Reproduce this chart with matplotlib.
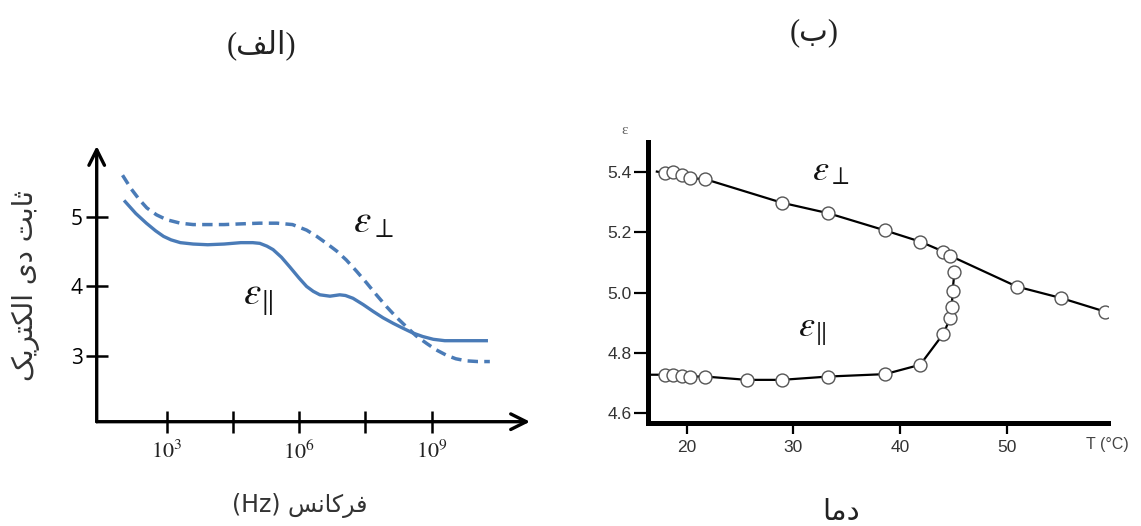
import numpy as np
import matplotlib.pyplot as plt

plt.rcParams['mathtext.fontset'] = 'stix'

# ---------- (الف) ثابت دی الکتریک بر حسب فرکانس ----------
log_f_perp = [2.0, 2.2, 2.38, 2.55, 2.77, 3.0, 3.31, 3.6, 3.93, 4.3, 4.68, 5.1, 5.5, 5.85,
              6.17, 6.4, 6.62, 6.85, 7.07, 7.3, 7.53, 7.75, 7.98, 8.2, 8.43, 8.65, 8.89,
              9.1, 9.34, 9.55, 9.79, 10.05, 10.32]
eps_perp_f = [5.60, 5.40, 5.25, 5.13, 5.03, 4.96, 4.91, 4.89, 4.89, 4.89, 4.90, 4.91, 4.91, 4.89,
              4.81, 4.72, 4.62, 4.51, 4.38, 4.22, 4.05, 3.88, 3.71, 3.56, 3.42, 3.29, 3.18,
              3.09, 3.01, 2.96, 2.93, 2.92, 2.92]

log_f_par = [2.06, 2.3, 2.54, 2.75, 2.93, 3.1, 3.31, 3.6, 3.93, 4.3, 4.68, 4.95, 5.11, 5.27,
             5.41, 5.6, 5.79, 6.0, 6.17, 6.32, 6.47, 6.7, 6.92, 7.05, 7.22, 7.45, 7.68, 7.9,
             8.13, 8.35, 8.58, 8.8, 9.04, 9.3, 9.56, 9.9, 10.24]
eps_par_f = [5.22, 5.05, 4.91, 4.80, 4.72, 4.67, 4.63, 4.61, 4.60, 4.61, 4.63, 4.63, 4.62, 4.58,
             4.53, 4.42, 4.28, 4.12, 4.00, 3.93, 3.88, 3.86, 3.88, 3.87, 3.83, 3.74, 3.64, 3.55,
             3.47, 3.40, 3.33, 3.28, 3.24, 3.22, 3.22, 3.22, 3.22]

x_ticks_log = [3, 4.5, 6, 7.5, 9]
x_tick_labels = [r'$10^3$', '', r'$10^6$', '', r'$10^9$']
y_ticks_a = [3, 4, 5]

# ---------- (ب) ثابت دی الکتریک بر حسب دما ----------
T_perp = [17.97, 18.74, 19.53, 20.31, 21.72, 28.9, 33.27, 38.59, 41.87, 44.05, 44.68,
          50.93, 55.08, 59.2]
eps_perp_T = [5.396, 5.398, 5.39, 5.379, 5.376, 5.298, 5.263, 5.206, 5.169, 5.136, 5.122,
              5.02, 4.982, 4.937]
T_par = [17.97, 18.74, 19.53, 20.31, 21.72, 25.62, 28.9, 33.27, 38.59, 41.87, 44.05,
         44.68, 44.84, 44.9, 45.08]
eps_par_T = [4.728, 4.728, 4.725, 4.722, 4.722, 4.711, 4.711, 4.722, 4.730, 4.761, 4.864,
             4.916, 4.954, 5.004, 5.067]
# ابتدا و انتهای خطوط
T_perp_line = [17.2] + T_perp + [60.1]
eps_perp_line = [5.401] + eps_perp_T + [4.93]
T_par_line = [16.6] + T_par + [45.2]
eps_par_line = [4.728] + eps_par_T + [5.084]

T_ticks = [20, 30, 40, 50]
eps_ticks = [5.4, 5.2, 5.0, 4.8, 4.6]

# متن ها (شکل نمایشی حروف، به ترتیب دیداری)
title_a = '(\uFED2\uFEDF\uFE8D)'
title_b = '(\uFE8F)'
ylabel_a = ('\uFB8F\uFBFE\uFEAE\uFE98\uFB91\uFEDF\uFE8D' + ' ' + '\uFBFC\uFEA9' + ' '
            + '\uFE96\uFE91\uFE8E\uFE9B')
xlabel_a = '(Hz) ' + '\uFEB2\uFEE7\uFE8E\uFB90\uFEAE\uFED3'
xlabel_b = '\uFE8E\uFEE3\uFEA9'

blue = '#4a7bb7'
fig = plt.figure(figsize=(11.41, 5.26), dpi=100)

# ----- نمودار الف -----
ax1 = fig.add_axes([0.08475, 0.19829, 0.37976, 0.52414])
ax1.set_xscale('log')
ax1.set_xlim(10 ** 1.415, 10 ** 11.23)
ax1.set_ylim(2.055, 6.02)
ax1.plot(10 ** np.array(log_f_perp), eps_perp_f, color=blue, lw=2.5, dashes=(3.0, 1.8))
ax1.plot(10 ** np.array(log_f_par), eps_par_f, color=blue, lw=2.4)
for s in ax1.spines.values():
    s.set_visible(False)
ax1.annotate('', xy=(1, 0), xytext=(0, 0), xycoords='axes fraction',
             arrowprops=dict(arrowstyle='->', lw=2.4, color='black', mutation_scale=28,
                             shrinkA=0, shrinkB=0))
ax1.annotate('', xy=(0, 1), xytext=(0, 0), xycoords='axes fraction',
             arrowprops=dict(arrowstyle='->', lw=2.4, color='black', mutation_scale=28,
                             shrinkA=0, shrinkB=0))
ax1.set_xticks(10 ** np.array(x_ticks_log))
ax1.set_xticklabels(x_tick_labels)
ax1.xaxis.set_minor_locator(plt.NullLocator())
ax1.set_yticks(y_ticks_a)
ax1.set_yticklabels([str(v) for v in y_ticks_a], family='Open Sans', color='#333333')
ax1.tick_params(axis='x', direction='inout', length=16, width=1.8, labelsize=16, pad=5,
                colors='black', labelcolor='#222222')
ax1.tick_params(axis='y', direction='inout', length=16, width=1.8, labelsize=15, pad=2,
                colors='black')
ax1.text(10 ** 7.22, 4.77, r'$\varepsilon_\perp$', fontsize=28, color='#111111')
ax1.text(10 ** 4.73, 3.73, r'$\varepsilon_\|$', fontsize=28, color='#111111')

fig.text(26 / 1141, 1 - 286 / 526, ylabel_a, rotation=90, ha='center', va='center',
         family=['DejaVu Sans'], fontsize=20, color='#333333')
fig.text(300 / 1141, 1 - 505 / 526, xlabel_a, ha='center', va='center',
         family=['DejaVu Sans'], fontsize=17, color='#333333')
fig.text(261 / 1141, 1 - 45 / 526, title_a, ha='center', va='center',
         family=['Liberation Serif', 'DejaVu Sans'], fontsize=22, color='#222222')

# ----- نمودار ب -----
ax2 = fig.add_axes([0.5682, 0.1952, 0.4032, 0.5354])
ax2.set_xlim(16.4, 59.5)
ax2.set_ylim(4.567, 5.5)
ax2.plot(T_perp_line, eps_perp_line, color='black', lw=1.6)
ax2.plot(T_par_line, eps_par_line, color='black', lw=1.6)
ax2.plot(T_perp, eps_perp_T, 'o', ms=9.3, mfc='white', mec='#555555', mew=1.0)
ax2.plot(T_par, eps_par_T, 'o', ms=9.3, mfc='white', mec='#555555', mew=1.0)
ax2.spines['top'].set_visible(False)
ax2.spines['right'].set_visible(False)
ax2.spines['left'].set_linewidth(3.6)
ax2.spines['bottom'].set_linewidth(3.6)
ax2.set_xticks(T_ticks)
ax2.set_yticks(eps_ticks)
ax2.set_yticklabels(['%.1f' % v for v in eps_ticks])
ax2.tick_params(axis='y', direction='out', length=10, width=1.6, labelsize=12.5, pad=2,
                labelcolor='#333333')
ax2.tick_params(axis='x', direction='out', length=8, width=1.6, labelsize=12.5, pad=4,
                labelcolor='#333333')
for lab in ax2.get_xticklabels() + ax2.get_yticklabels():
    lab.set_family('Liberation Sans')
ax2.text(31.72, 5.374, r'$\varepsilon_\perp$', fontsize=26, color='#111111')
ax2.text(30.43, 4.854, r'$\varepsilon_\|$', fontsize=26, color='#111111')
fig.text(1107 / 1141, 1 - 444 / 526, 'T (\u00b0C)', ha='center', va='center',
         family='Liberation Sans', fontsize=11.5, color='#444444')
fig.text(625 / 1141, 1 - 131 / 526, '\u03b5', ha='center', va='center',
         family='Liberation Serif', fontsize=11, color='#666666')
fig.text(841 / 1141, 1 - 512 / 526, xlabel_b, ha='center', va='center',
         family=['DejaVu Sans'], fontsize=21, color='#222222')
fig.text(814 / 1141, 1 - 33 / 526, title_b, ha='center', va='center',
         family=['Liberation Serif', 'DejaVu Sans'], fontsize=22, color='#222222')

fig.savefig('out.png', dpi=100)
